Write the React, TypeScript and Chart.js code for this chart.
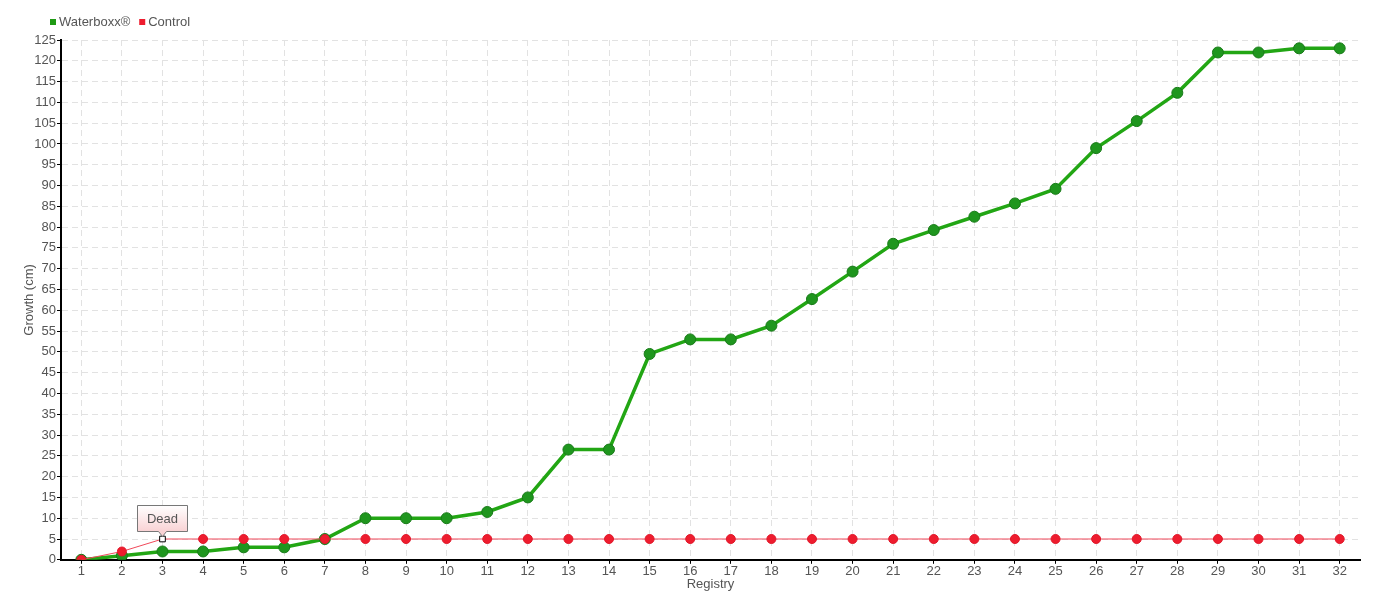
import React, { useEffect, useRef } from "react";
import { Chart, registerables } from "chart.js";

Chart.register(...registerables);

const categories = Array.from({ length: 32 }, (_, i) => String(i + 1));
const waterboxx = [0, 1, 2, 2, 3, 3, 5, 10, 10, 10, 11.5, 15, 26.5, 26.5, 49.5, 53, 53, 56.3, 62.7, 69.3, 76, 79.3, 82.5, 85.7, 89.2, 99, 105.5, 112.3, 122, 122, 123, 123];
const control = [0, 2, 5, 5, 5, 5, 5, 5, 5, 5, 5, 5, 5, 5, 5, 5, 5, 5, 5, 5, 5, 5, 5, 5, 5, 5, 5, 5, 5, 5, 5, 5];
const deadIndex = 2;
const deadLabel = "Dead";
const seriesNames = ["Waterboxx®", "Control"];
const seriesColors = ["#1f9a14", "#ee1c2e"];

const FONT = "'Liberation Sans', Arial, sans-serif";
const TEXT = "#555";
const FS = 13;

const deadPlugin = {
  id: "deadLabel",
  afterDatasetsDraw(chart: any) {
    const meta = chart.getDatasetMeta(1);
    const pt = meta.data[deadIndex];
    if (!pt) return;
    const ctx = chart.ctx;
    const x = Math.round(pt.x) + 0.5, y = Math.round(pt.y);
    const w = 50, h = 26;
    const bx = x - w / 2, by = y - 8 - h + 0.5;
    ctx.save();
    const g = ctx.createLinearGradient(0, by, 0, by + h);
    g.addColorStop(0, "#ffffff");
    g.addColorStop(1, "#f9d2d4");
    ctx.beginPath();
    ctx.moveTo(bx, by);
    ctx.lineTo(bx + w, by);
    ctx.lineTo(bx + w, by + h);
    ctx.lineTo(x + 4, by + h);
    ctx.lineTo(x, by + h + 5);
    ctx.lineTo(x - 4, by + h);
    ctx.lineTo(bx, by + h);
    ctx.closePath();
    ctx.fillStyle = g;
    ctx.fill();
    ctx.strokeStyle = "#777";
    ctx.lineWidth = 1;
    ctx.stroke();
    ctx.fillStyle = TEXT;
    ctx.font = `${FS}px ${FONT}`;
    ctx.textAlign = "center";
    ctx.textBaseline = "middle";
    ctx.fillText(deadLabel, x, by + h / 2 + 1);
    ctx.restore();
  },
};

const legendPlugin = {
  id: "customLegend",
  afterDraw(chart: any) {
    const ctx = chart.ctx;
    ctx.save();
    ctx.font = `${FS}px ${FONT}`;
    ctx.textBaseline = "middle";
    ctx.textAlign = "left";
    let x = 50;
    const y = 22;
    seriesNames.forEach((name, i) => {
      ctx.fillStyle = seriesColors[i];
      ctx.fillRect(x, y - 3, 6, 6);
      x += 9;
      ctx.fillStyle = TEXT;
      ctx.fillText(name, x, y);
      x += ctx.measureText(name).width + 9;
    });
    ctx.restore();
  },
};

export default function App() {
  const ref = useRef<HTMLCanvasElement>(null);
  useEffect(() => {
    document.body.style.margin = "0";
    const ctrlStyles = control.map((_, i) => (i === deadIndex ? "rect" : "circle"));
    const ctrlBg = control.map((_, i) => (i === deadIndex ? "#ffffff" : "#ee1c2e"));
    const ctrlBorder = control.map((_, i) => (i === deadIndex ? "#000000" : "#e0182a"));
    const ctrlRadius = control.map((_, i) => (i === deadIndex ? 4 : 4.5));
    const chart = new Chart(ref.current!, {
      type: "line",
      data: {
        labels: categories,
        datasets: [
          {
            label: seriesNames[0],
            data: waterboxx,
            borderColor: "#22a614",
            backgroundColor: "#1f961e",
            borderWidth: 3.5,
            pointRadius: 5.5,
            pointBorderWidth: 1,
            pointBorderColor: "#187a18",
            pointBackgroundColor: "#1f961e",
            tension: 0,
            order: 1,
          },
          {
            label: seriesNames[1],
            data: control,
            borderColor: "#f0485a",
            backgroundColor: "#ee1c2e",
            borderWidth: 1,
            pointRadius: ctrlRadius,
            pointStyle: ctrlStyles as any,
            pointBackgroundColor: ctrlBg,
            pointBorderColor: ctrlBorder,
            pointBorderWidth: 1,
            tension: 0,
            order: 0,
          },
        ],
      },
      options: {
        responsive: false,
        animation: false,
        layout: { padding: { left: 22, right: 20, top: 40, bottom: 8 } },
        plugins: {
          legend: { display: false },
          tooltip: { enabled: false },
        },
        scales: {
          x: {
            offset: true,
            title: { display: true, text: "Registry", color: TEXT, font: { family: FONT, size: FS }, padding: { top: -3, bottom: 0 } },
            ticks: { color: TEXT, font: { family: FONT, size: FS }, maxRotation: 0, autoSkip: false, padding: 0 },
            grid: { color: "#e2e2e2", tickColor: "#000", tickLength: 4, lineWidth: 1 },
            border: { color: "#000", width: 2, dash: [6, 4] },
          },
          y: {
            min: 0,
            max: 125,
            afterFit: (scale: any) => { scale.width = 39; },
            title: { display: true, text: "Growth (cm)", color: TEXT, font: { family: FONT, size: FS }, padding: { top: 0, bottom: 0 } },
            ticks: { stepSize: 5, color: TEXT, font: { family: FONT, size: FS }, padding: 1 },
            grid: { color: "#e2e2e2", tickColor: "#000", tickLength: 4, lineWidth: 1 },
            border: { color: "#000", width: 2, dash: [6, 4] },
          },
        },
      },
      plugins: [deadPlugin, legendPlugin],
    });
    return () => chart.destroy();
  }, []);
  return <canvas ref={ref} width={1380} height={600} style={{ display: "block" }} />;
}
